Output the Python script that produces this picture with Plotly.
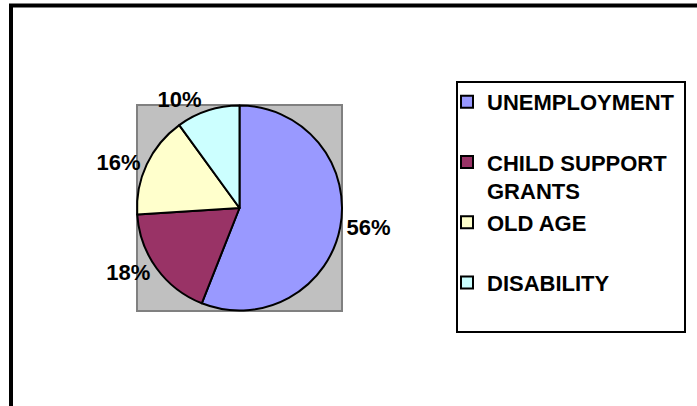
import plotly.graph_objects as go

# ---- data ----
categories = ["UNEMPLOYMENT", "CHILD SUPPORT<br>GRANTS", "OLD AGE", "DISABILITY"]
shares = [56, 18, 16, 10]
colors = ["#9999FF", "#993366", "#FFFFCC", "#CCFFFF"]

W, H = 697, 406
FONT = "Liberation Sans, Arial, sans-serif"

def px_x(p):
    return p / W

def px_y(p):
    return 1 - p / H

# legend labels padded so each entry occupies two text lines
legend_labels = [c if "<br>" in c else c + "<br> " for c in categories[:-1]] + [categories[-1]]

pie_x = [px_x(137), px_x(342)]
pie_y = [px_y(311), px_y(105)]

fig = go.Figure(
    go.Pie(
        labels=legend_labels,
        values=shares,
        sort=False,
        direction="clockwise",
        rotation=0,
        marker=dict(colors=colors, line=dict(color="black", width=2)),
        textinfo="percent",
        texttemplate="%{percent:.0%}",
        textposition="outside",
        outsidetextfont=dict(family=FONT, size=22, color="black", weight="bold"),
        domain=dict(x=pie_x, y=pie_y),
        hoverinfo="label+percent",
    )
)

shapes = [
    # gray plot area
    dict(type="rect", xref="paper", yref="paper", layer="below",
         x0=pie_x[0], x1=pie_x[1], y0=pie_y[0], y1=pie_y[1],
         fillcolor="#C0C0C0", line=dict(color="#808080", width=2)),
    # outer chart frame (top & left visible)
    dict(type="line", xref="paper", yref="paper",
         x0=px_x(9), x1=1.02, y0=px_y(5.5), y1=px_y(5.5),
         line=dict(color="black", width=4)),
    dict(type="line", xref="paper", yref="paper",
         x0=px_x(11), x1=px_x(11), y0=-0.05, y1=px_y(4),
         line=dict(color="black", width=4)),
    # legend box
    dict(type="rect", xref="paper", yref="paper",
         x0=px_x(457), x1=px_x(685), y0=px_y(332), y1=px_y(82),
         line=dict(color="black", width=2), fillcolor="rgba(0,0,0,0)"),
]

fig.update_layout(
    width=W, height=H,
    margin=dict(l=0, r=0, t=0, b=0),
    paper_bgcolor="white",
    plot_bgcolor="white",
    shapes=shapes,
    showlegend=True,
    legend=dict(
        x=px_x(447), y=px_y(81), xanchor="left", yanchor="top",
        font=dict(family=FONT, size=22, color="black", weight="bold"),
        bgcolor="rgba(0,0,0,0)", borderwidth=0,
        valign="top", itemwidth=30,
    ),
)

fig.write_html(
    "out.html",
    config={"displayModeBar": False},
    post_script="document.body.style.margin='0';",
)
